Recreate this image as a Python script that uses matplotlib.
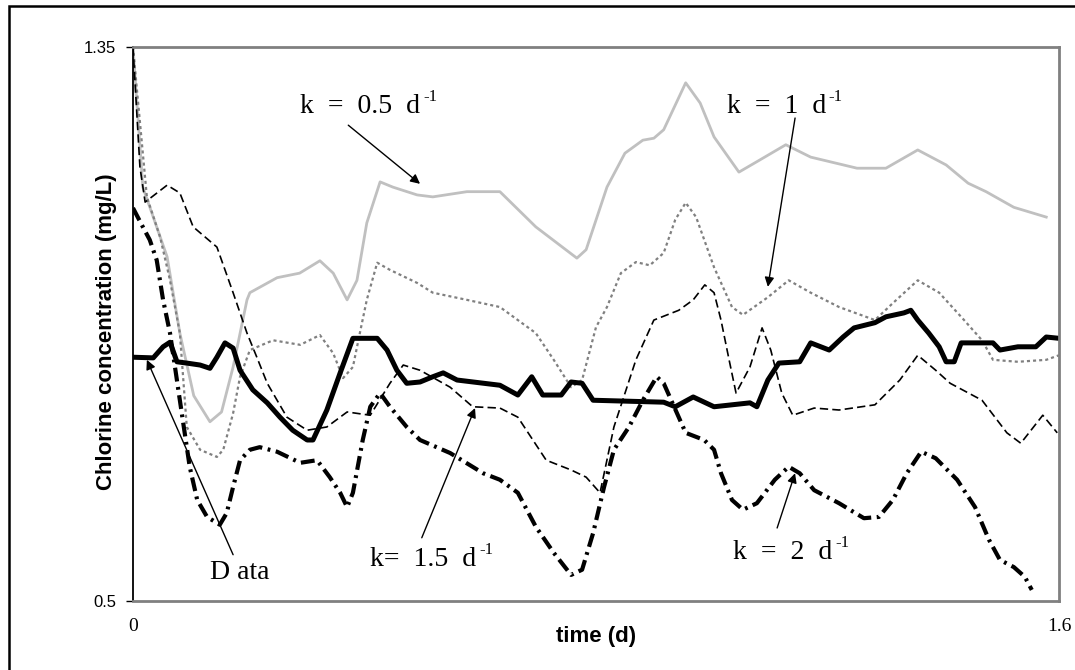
import matplotlib
matplotlib.use("Agg")
import matplotlib.pyplot as plt
from matplotlib.patches import Rectangle

plt.rcParams['lines.scale_dashes'] = False

# k = 0.5 d-1 (light grey solid)
t_05 = [0, 0.017, 0.059, 0.081, 0.105, 0.133, 0.153, 0.173, 0.197, 0.202, 0.249, 0.288,
        0.323, 0.346, 0.370, 0.387, 0.404, 0.427, 0.449, 0.491, 0.518, 0.577, 0.634,
        0.696, 0.767, 0.783, 0.819, 0.850, 0.881, 0.900, 0.917, 0.955, 0.980, 1.004,
        1.047, 1.078, 1.128, 1.171, 1.251, 1.301, 1.356, 1.405, 1.443, 1.474, 1.522, 1.578]
c_05 = [1.35, 1.135, 1.028, 0.911, 0.815, 0.775, 0.790, 0.859, 0.962, 0.973, 0.996, 1.003,
        1.022, 1.003, 0.962, 0.992, 1.080, 1.143, 1.135, 1.123, 1.120, 1.128, 1.128,
        1.074, 1.026, 1.039, 1.135, 1.187, 1.207, 1.210, 1.223, 1.295, 1.264, 1.212,
        1.158, 1.174, 1.200, 1.181, 1.164, 1.164, 1.192, 1.169, 1.141, 1.128, 1.104, 1.089]

# k = 1 d-1 (grey dotted)
t_1 = [0, 0.024, 0.047, 0.064, 0.081, 0.093, 0.116, 0.145, 0.156, 0.173, 0.185, 0.202,
       0.242, 0.289, 0.323, 0.346, 0.363, 0.380, 0.392, 0.404, 0.422, 0.444, 0.491,
       0.518, 0.577, 0.634, 0.696, 0.727, 0.757, 0.776, 0.800, 0.819, 0.843, 0.869,
       0.893, 0.917, 0.937, 0.955, 0.973, 1.004, 1.035, 1.054, 1.097, 1.133, 1.171,
       1.220, 1.282, 1.313, 1.356, 1.393, 1.436, 1.467, 1.486, 1.529, 1.578, 1.6]
c_1 = [1.35, 1.120, 1.058, 0.992, 0.911, 0.767, 0.732, 0.721, 0.732, 0.788, 0.844, 0.885,
       0.900, 0.893, 0.908, 0.880, 0.842, 0.859, 0.911, 0.962, 1.019, 1.008, 0.988,
       0.973, 0.962, 0.951, 0.911, 0.870, 0.828, 0.839, 0.920, 0.951, 1.003, 1.020,
       1.015, 1.034, 1.085, 1.111, 1.089, 1.012, 0.951, 0.939, 0.966, 0.992, 0.973,
       0.951, 0.931, 0.957, 0.992, 0.973, 0.931, 0.900, 0.870, 0.867, 0.870, 0.877]

# k = 1.5 d-1 (black dashed, thin)
t_15 = [0, 0.012, 0.021, 0.059, 0.081, 0.104, 0.145, 0.173, 0.197, 0.214, 0.232, 0.266,
        0.301, 0.335, 0.370, 0.410, 0.444, 0.467, 0.496, 0.548, 0.587, 0.634, 0.665,
        0.714, 0.757, 0.783, 0.807, 0.831, 0.869, 0.900, 0.943, 0.968, 0.988, 1.004,
        1.016, 1.030, 1.042, 1.066, 1.087, 1.102, 1.121, 1.140, 1.177, 1.220, 1.282,
        1.325, 1.356, 1.387, 1.412, 1.467, 1.510, 1.534, 1.572, 1.597]
c_15 = [1.35, 1.166, 1.112, 1.138, 1.126, 1.074, 1.043, 0.973, 0.911, 0.874, 0.834, 0.782,
        0.762, 0.767, 0.790, 0.785, 0.834, 0.862, 0.854, 0.828, 0.798, 0.796, 0.782,
        0.716, 0.701, 0.690, 0.666, 0.767, 0.870, 0.931, 0.946, 0.962, 0.985, 0.973,
        0.931, 0.870, 0.819, 0.859, 0.919, 0.885, 0.819, 0.785, 0.796, 0.793, 0.801,
        0.839, 0.877, 0.854, 0.834, 0.808, 0.758, 0.742, 0.785, 0.758]

# k = 2 d-1 (black dash-dot, thick)
t_2 = [0, 0.017, 0.029, 0.041, 0.052, 0.064, 0.081, 0.093, 0.098, 0.111, 0.128, 0.150,
       0.162, 0.173, 0.185, 0.202, 0.219, 0.249, 0.289, 0.318, 0.340, 0.358, 0.370,
       0.380, 0.397, 0.410, 0.427, 0.444, 0.473, 0.496, 0.548, 0.605, 0.634, 0.665,
       0.696, 0.727, 0.757, 0.776, 0.795, 0.814, 0.831, 0.857, 0.881, 0.905, 0.917,
       0.930, 0.943, 0.955, 0.987, 1.004, 1.016, 1.035, 1.054, 1.078, 1.109, 1.133,
       1.152, 1.177, 1.220, 1.263, 1.289, 1.313, 1.337, 1.362, 1.387, 1.424, 1.455,
       1.479, 1.498, 1.522, 1.541, 1.553]
c_2 = [1.103, 1.074, 1.054, 1.023, 0.962, 0.911, 0.808, 0.736, 0.706, 0.655, 0.629, 0.617,
       0.635, 0.675, 0.716, 0.732, 0.736, 0.729, 0.712, 0.716, 0.690, 0.666, 0.644,
       0.666, 0.747, 0.798, 0.819, 0.798, 0.767, 0.747, 0.727, 0.696, 0.686, 0.666,
       0.614, 0.574, 0.540, 0.548, 0.604, 0.675, 0.732, 0.767, 0.808, 0.844, 0.834,
       0.808, 0.782, 0.758, 0.747, 0.732, 0.696, 0.655, 0.640, 0.650, 0.686, 0.706,
       0.696, 0.670, 0.650, 0.627, 0.629, 0.655, 0.696, 0.729, 0.719, 0.686, 0.644,
       0.594, 0.563, 0.552, 0.537, 0.517]

# measured data (black solid, thick)
t_data = [0, 0.035, 0.052, 0.064, 0.076, 0.093, 0.116, 0.133, 0.145, 0.159, 0.173, 0.185,
          0.207, 0.232, 0.254, 0.276, 0.301, 0.311, 0.335, 0.358, 0.380, 0.422, 0.439,
          0.456, 0.473, 0.496, 0.518, 0.536, 0.560, 0.634, 0.665, 0.689, 0.708, 0.740,
          0.757, 0.776, 0.795, 0.917, 0.937, 0.968, 1.004, 1.066, 1.078, 1.097, 1.116,
          1.152, 1.171, 1.203, 1.227, 1.246, 1.282, 1.301, 1.332, 1.344, 1.356, 1.375,
          1.393, 1.405, 1.419, 1.431, 1.486, 1.498, 1.529, 1.560, 1.578, 1.6]
c_data = [0.874, 0.873, 0.890, 0.897, 0.867, 0.865, 0.862, 0.857, 0.874, 0.896, 0.888, 0.854,
          0.824, 0.804, 0.782, 0.762, 0.747, 0.747, 0.793, 0.850, 0.903, 0.903, 0.885,
          0.854, 0.834, 0.836, 0.844, 0.850, 0.839, 0.831, 0.816, 0.844, 0.816, 0.816,
          0.836, 0.834, 0.808, 0.805, 0.798, 0.813, 0.798, 0.804, 0.798, 0.839, 0.865,
          0.867, 0.896, 0.885, 0.905, 0.919, 0.927, 0.936, 0.942, 0.946, 0.931, 0.911,
          0.890, 0.867, 0.867, 0.896, 0.896, 0.885, 0.890, 0.890, 0.905, 0.903]

fig = plt.figure(figsize=(10.75, 6.7), dpi=100)
ax = fig.add_axes([0.1237, 0.103, 0.8614, 0.8269])

ax.plot(t_05, c_05, color='#c0c0c0', lw=2.0)
ax.plot(t_1, c_1, color='#808080', lw=1.6, dashes=(2.2, 2.2))
ax.plot(t_15, c_15, color='black', lw=1.2, dashes=(6, 3))
ax.plot(t_2, c_2, color='black', lw=3.0, dashes=(10, 4, 2, 4))
ax.plot(t_data, c_data, color='black', lw=3.6, solid_joinstyle='round')

ax.set_xlim(0, 1.6)
ax.set_ylim(0.5, 1.35)
ax.set_xticks([0, 1.6])
ax.set_xticklabels(['0', '1.6'], family='Liberation Serif', fontsize=14)
ax.set_yticks([0.5, 1.35])
ax.set_yticklabels(['0.5', '1.35'], family='Liberation Sans', fontsize=12)
ax.tick_params(axis='x', length=0, pad=12)
ax.tick_params(axis='y', length=5, width=1, pad=7)

for side in ['top', 'right', 'bottom']:
    ax.spines[side].set_color('#808080')
    ax.spines[side].set_linewidth(2)
ax.spines['left'].set_color('black')
ax.spines['left'].set_linewidth(1.3)

ax.set_ylabel('Chlorine concentration (mg/L)', family='Liberation Sans',
              fontweight='bold', fontsize=16)
ax.yaxis.set_label_coords(-0.017, 0.486)
ax.set_xlabel('time (d)', family='Liberation Sans', fontweight='bold', fontsize=16)
ax.xaxis.set_label_coords(0.5, -0.046)

# labels (left edge, baseline) with a small "-1" superscript, and arrows
arrow = dict(arrowstyle='-|>', color='black', lw=1, mutation_scale=14, shrinkA=0, shrinkB=0)


def label(x, y, main, sup='-1'):
    t = ax.text(x, y, main, family='Liberation Serif', fontsize=20, ha='left', va='baseline')
    if sup:
        ax.annotate(sup, xy=(1, 0.55), xycoords=t, xytext=(2, 0), textcoords='offset points',
                    family='Liberation Serif', fontsize=12, ha='left', va='bottom')


label(0.289, 1.249, 'k  =  0.5  d')
ax.annotate('', xy=(0.496, 1.140), xytext=(0.372, 1.230), arrowprops=arrow)

label(1.026, 1.249, 'k  =  1  d')
ax.annotate('', xy=(1.097, 0.982), xytext=(1.144, 1.241), arrowprops=arrow)

label(0.133, 0.533, 'D ata', sup=None)
ax.annotate('', xy=(0.024, 0.870), xytext=(0.173, 0.571), arrowprops=arrow)

label(0.410, 0.554, 'k=  1.5  d')
ax.annotate('', xy=(0.591, 0.796), xytext=(0.499, 0.597), arrowprops=arrow)

label(1.037, 0.565, 'k  =  2  d')
ax.annotate('', xy=(1.144, 0.696), xytext=(1.113, 0.612), arrowprops=arrow)

# outer frame (cropped on right and bottom)
fig.patches.append(Rectangle((9 / 1075, -0.1), 1.2, 1.1 - 6 / 670, transform=fig.transFigure,
                             fill=False, edgecolor='black', lw=1.8))

fig.savefig('out.png', dpi=100)
